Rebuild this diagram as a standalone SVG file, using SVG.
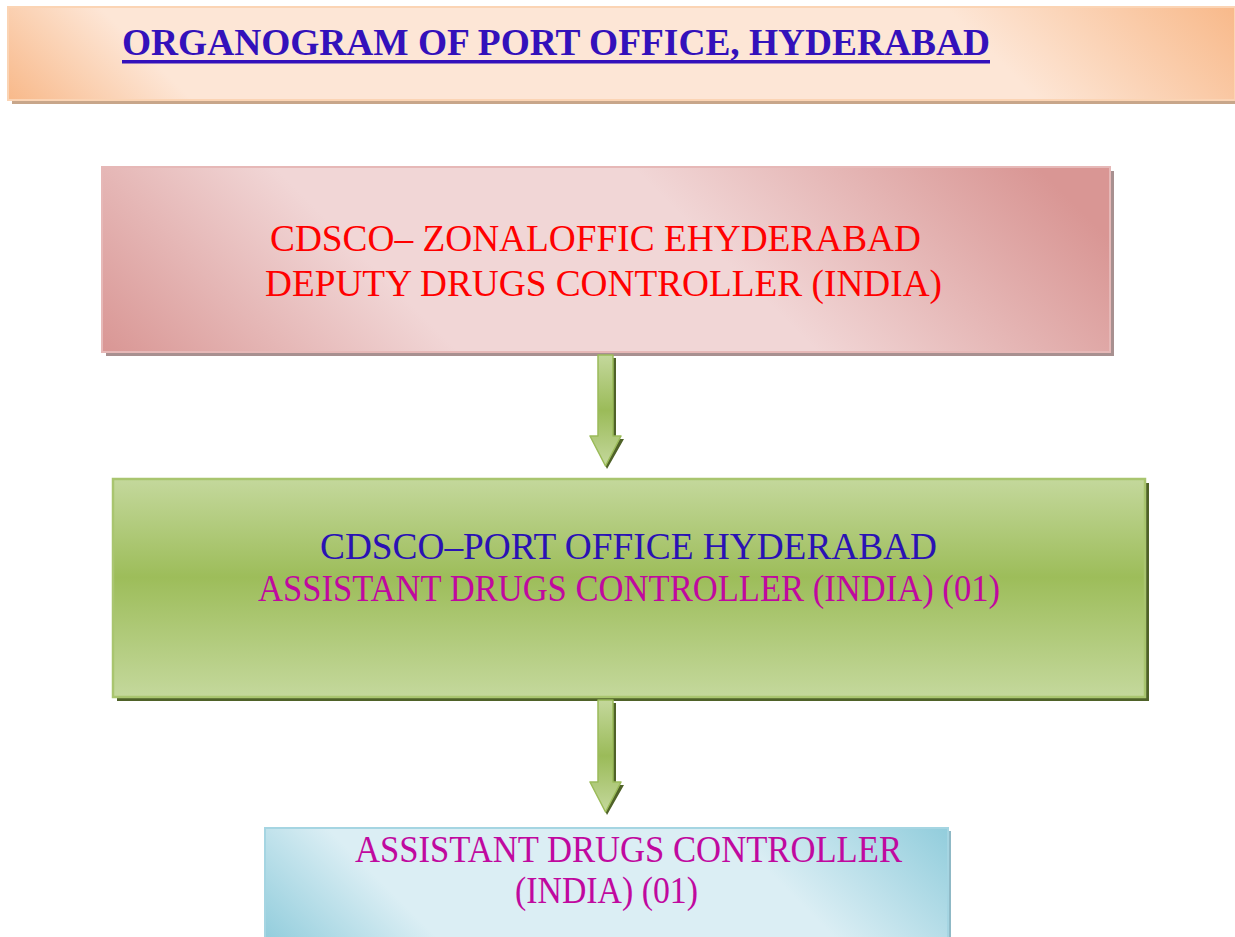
<svg xmlns="http://www.w3.org/2000/svg" width="1235" height="937" viewBox="0 0 1235 937">
<style>
text{font-family:"Liberation Serif","Times New Roman",serif}
.t{font-size:38px;font-weight:bold;fill:#3311bb}
.red{font-size:37px;fill:#ff0000}
.blue{font-size:37px;fill:#2a12b4}
.mag{font-size:37px;fill:#c0099f}
</style>
<defs>
<linearGradient id="gTitle" gradientUnits="userSpaceOnUse" x1="8" y1="100" x2="668" y2="-560">
<stop offset="0" stop-color="#f8b98a"/>
<stop offset="0.14" stop-color="#fde6d6"/>
<stop offset="0.78" stop-color="#fde6d6"/>
<stop offset="1" stop-color="#f8b98a"/>
</linearGradient>
<linearGradient id="gPink" gradientUnits="userSpaceOnUse" x1="102" y1="352" x2="698" y2="-244">
<stop offset="0" stop-color="#d99694"/>
<stop offset="0.3" stop-color="#f1d6d6"/>
<stop offset="0.6" stop-color="#f1d6d6"/>
<stop offset="0.94" stop-color="#d99694"/>
</linearGradient>
<linearGradient id="gGreen" x1="0" y1="0" x2="0" y2="1">
<stop offset="0" stop-color="#c4d89c"/>
<stop offset="0.45" stop-color="#9dbd5a"/>
<stop offset="1" stop-color="#c4d89c"/>
</linearGradient>
<linearGradient id="gBlue" gradientUnits="userSpaceOnUse" x1="265" y1="940" x2="662" y2="543">
<stop offset="0" stop-color="#92cddc"/>
<stop offset="0.22" stop-color="#dbeef4"/>
<stop offset="0.72" stop-color="#dbeef4"/>
<stop offset="1" stop-color="#92cddc"/>
</linearGradient>
<linearGradient id="gArrow" x1="0" y1="0" x2="0" y2="1">
<stop offset="0" stop-color="#c4d89c"/>
<stop offset="0.5" stop-color="#9bbb59"/>
<stop offset="1" stop-color="#c4d89c"/>
</linearGradient>
</defs>

<g id="title">
<rect x="12" y="11" width="1223" height="93" fill="#c8a68a"/>
<rect x="8" y="7" width="1227" height="93" fill="url(#gTitle)" stroke="#fbd4b4" stroke-width="2"/>
<text class="t" x="122" y="55" textLength="868" lengthAdjust="spacingAndGlyphs">ORGANOGRAM OF PORT OFFICE, HYDERABAD</text>
<rect x="122" y="60" width="868" height="3.5" fill="#3311bb"/>
</g>

<g id="zonal-office">
<rect x="106" y="171" width="1008" height="185" fill="#a89090"/>
<rect x="102" y="167" width="1008" height="185" fill="url(#gPink)" stroke="#e6b8b7" stroke-width="2"/>
<text class="red" x="270" y="251" textLength="651" lengthAdjust="spacingAndGlyphs">CDSCO– ZONALOFFIC EHYDERABAD</text>
<text class="red" x="265" y="296" textLength="677" lengthAdjust="spacingAndGlyphs">DEPUTY DRUGS CONTROLLER (INDIA)</text>
</g>

<g id="port-office">
<rect x="117" y="483" width="1032" height="218" fill="#4f6228"/>
<rect x="113" y="479" width="1032" height="218" fill="url(#gGreen)" stroke="#a9c56f" stroke-width="2.5"/>
<text class="blue" x="320" y="559" textLength="617" lengthAdjust="spacingAndGlyphs">CDSCO–PORT OFFICE HYDERABAD</text>
<text class="mag" x="258" y="601" textLength="742" lengthAdjust="spacingAndGlyphs">ASSISTANT DRUGS CONTROLLER (INDIA) (01)</text>
</g>

<g id="adc">
<rect x="268" y="831" width="683" height="110" fill="#8fb9c6"/>
<rect x="265" y="828" width="683" height="112" fill="url(#gBlue)" stroke="#a5d5e2" stroke-width="2"/>
<text class="mag" x="355" y="862" textLength="547" lengthAdjust="spacingAndGlyphs">ASSISTANT DRUGS CONTROLLER</text>
<text class="mag" x="515" y="903" textLength="183" lengthAdjust="spacingAndGlyphs">(INDIA) (01)</text>
</g>

<g id="connectors">
<path d="M601 358 H616 V439 H624 L607 469 L593 439 H601 Z" fill="#4f6228"/>
<path d="M598 355 H613 V436 H621 L605.5 466 L590 436 H598 Z" fill="url(#gArrow)" stroke="#9bbb59" stroke-width="1.5" stroke-linejoin="round"/>
<path d="M601 703 H616 V785 H624 L607 815 L593 785 H601 Z" fill="#4f6228"/>
<path d="M598 700 H613 V782 H621 L605.5 812 L590 782 H598 Z" fill="url(#gArrow)" stroke="#9bbb59" stroke-width="1.5" stroke-linejoin="round"/>
</g>
</svg>
